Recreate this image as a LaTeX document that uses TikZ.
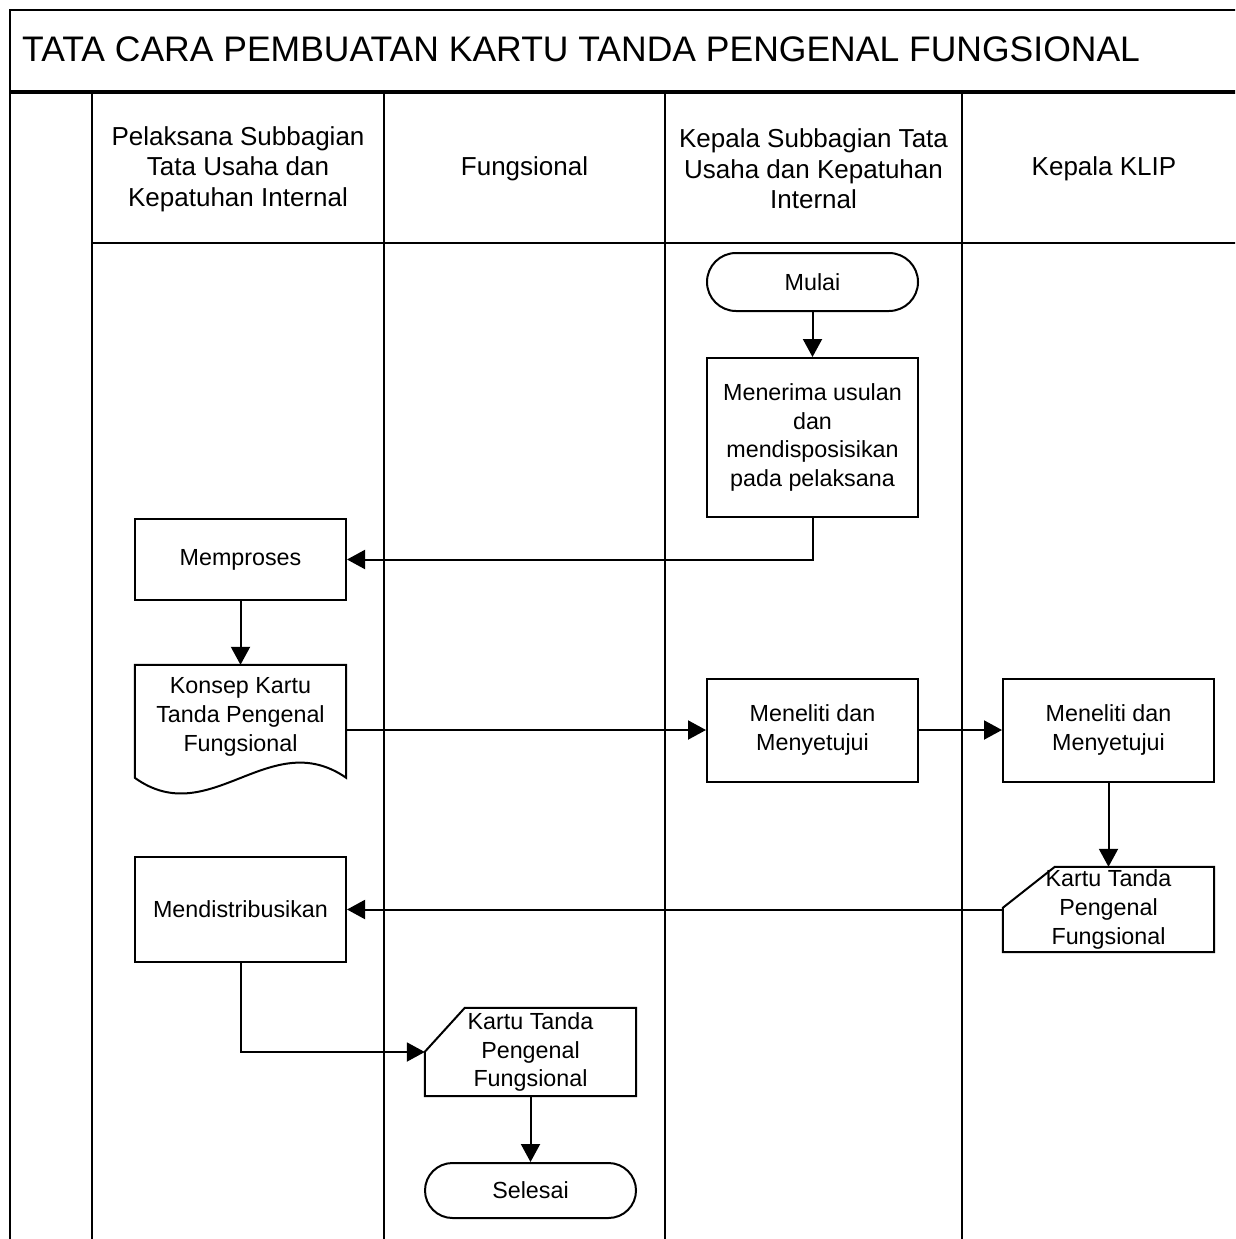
\documentclass[tikz,border=0pt]{standalone}
\usepackage{fontspec}
\setmainfont{Liberation Sans}
\usetikzlibrary{arrows.meta,calc}
\begin{document}
\begin{tikzpicture}[x=1pt,y=-1pt,
  frame/.style={line width=2.5pt},
  txt/.style={align=center, inner sep=0pt, font=\fontsize{23.3}{28.7}\selectfont},
  hdr/.style={align=center, inner sep=0pt, font=\fontsize{26}{30.5}\selectfont},
  proc/.style={txt, draw, line width=2pt, minimum width=211pt},
  term/.style={proc, minimum height=58pt, rounded corners=29pt},
  ghost/.style={txt, minimum width=211pt},
  outline/.style={draw, line width=2pt, line join=miter},
  flow/.style={line width=2pt, -{Triangle[length=18pt,width=19pt]}}
]
\clip (0,0) rectangle (1235,1239);
\fill[white] (0,0) rectangle (1235,1239);

% frame and swimlanes
\draw[frame] (10,1245) -- (10,10) -- (1245,10);
\draw[line width=3.5pt] (10,92) -- (1245,92);
\draw[frame] (92,92) -- (92,1245);
\draw[frame] (384,92) -- (384,1245);
\draw[frame] (665,92) -- (665,1245);
\draw[frame] (962,92) -- (962,1245);
\draw[line width=2pt] (92,243) -- (1245,243);

\node[anchor=west, inner sep=0pt, font=\fontsize{35.5}{40}\selectfont] (title) at (22,49.5)
  {TATA CARA PEMBUATAN KARTU TANDA PENGENAL FUNGSIONAL};

\node[hdr] (h1) at (238,169) {Pelaksana Subbagian\\Tata Usaha dan\\Kepatuhan Internal};
\node[hdr] (h2) at (524.5,169) {Fungsional};
\node[hdr] (h3) at (813.5,169) {Kepala Subbagian Tata\\Usaha dan Kepatuhan\\Internal};
\node[hdr] (h4) at (1104,169) {Kepala KLIP};

% nodes
\node[term] (mulai) at (812.5,282) {Mulai};
\node[proc, minimum height=159pt] (terima) at (812.5,437.5) {Menerima usulan\\dan\\mendisposisikan\\pada pelaksana};
\node[proc, minimum height=81pt] (proses) at (240.5,559.5) {Memproses};

\node[ghost, minimum height=130pt] (konsep) at (240.5,730) {};
\draw[outline] (konsep.north west) -- (konsep.north east) -- ($(konsep.north east)+(0,113)$)
  .. controls ($(konsep.north west)+(135,60)$) and ($(konsep.north west)+(75,167)$) .. ($(konsep.north west)+(0,113)$) -- cycle;
\node[txt] (konseptext) at ([yshift=13pt]konsep.center) {Konsep Kartu\\Tanda Pengenal\\Fungsional};

\node[proc, minimum height=103pt] (teliti1) at (812.5,730) {Meneliti dan\\Menyetujui};
\node[proc, minimum height=103pt] (teliti2) at (1108.5,730) {Meneliti dan\\Menyetujui};

\node[ghost, minimum height=85pt] (kartu1) at (1108.5,909.5) {Kartu Tanda\\Pengenal\\Fungsional};
\draw[outline] ($(kartu1.north west)+(0,41)$) -- ($(kartu1.north west)+(52,0)$) -- (kartu1.north east)
  -- (kartu1.south east) -- (kartu1.south west) -- cycle;

\node[proc, minimum height=105pt] (distrib) at (240.5,909.5) {Mendistribusikan};

\node[ghost, minimum height=88pt] (kartu2) at (530.5,1052) {Kartu Tanda\\Pengenal\\Fungsional};
\draw[outline] ($(kartu2.north west)+(0,44)$) -- ($(kartu2.north west)+(40,0)$) -- (kartu2.north east)
  -- (kartu2.south east) -- (kartu2.south west) -- cycle;

\node[term, minimum height=55pt, rounded corners=27.5pt] (selesai) at (530.5,1190.5) {Selesai};

% connectors
\draw[flow] (mulai) -- (terima);
\draw[flow] (terima.south) |- (proses.east);
\draw[flow] (proses) -- (konsep);
\draw[flow] (konsep.east) -- (teliti1.west);
\draw[flow] (teliti1) -- (teliti2);
\draw[flow] (teliti2) -- (kartu1);
\draw[flow] (kartu1.west) -- (distrib.east);
\draw[flow] (distrib.south) |- (kartu2.west);
\draw[flow] (kartu2) -- (selesai);
\end{tikzpicture}
\end{document}
